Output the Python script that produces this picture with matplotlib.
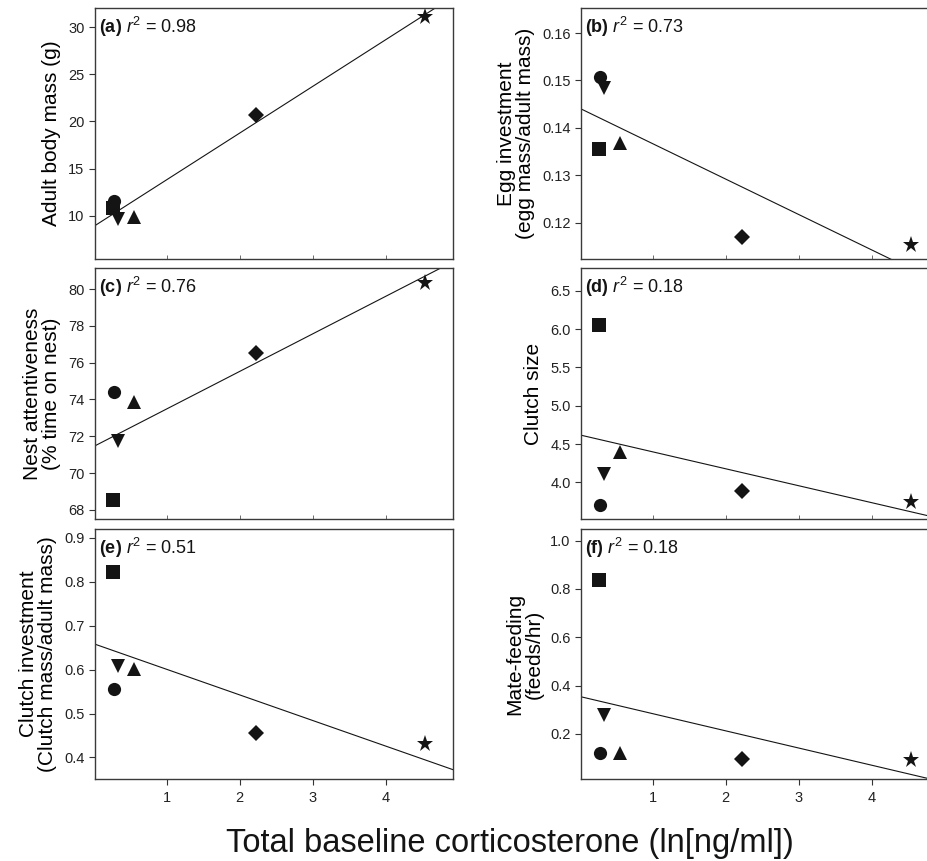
import numpy as np
import matplotlib
matplotlib.use('Agg')
import matplotlib.pyplot as plt

plt.rcParams['font.family'] = ['Liberation Sans', 'DejaVu Sans']
plt.rcParams['mathtext.fontset'] = 'custom'
plt.rcParams['mathtext.rm'] = 'Liberation Sans'
plt.rcParams['mathtext.it'] = 'Liberation Sans:italic'
plt.rcParams['mathtext.bf'] = 'Liberation Sans:bold'

# Species means, order: circle, square, down triangle, up triangle, diamond, star
markers = ['o', 's', 'v', '^', 'D', '*']
marker_sizes = [9.5, 9.5, 10.5, 10.5, 8.5, 12.5]

cort = [0.28, 0.27, 0.34, 0.56, 2.22, 4.53]

body_mass = [11.6, 10.8, 9.7, 9.9, 20.7, 31.06]
egg_invest = [0.1507, 0.1356, 0.1484, 0.1367, 0.1169, 0.1152]
attentiveness = [74.40, 68.55, 71.72, 73.84, 76.52, 80.36]
clutch_size = [3.70, 6.06, 4.11, 4.40, 3.89, 3.74]
clutch_invest = [0.556, 0.822, 0.609, 0.602, 0.456, 0.431]
mate_feeding = [0.12, 0.837, 0.279, 0.12, 0.096, 0.093]

panel_tags = ['a', 'b', 'c', 'd', 'e', 'f']
r2_text = ['0.98', '0.73', '0.76', '0.18', '0.51', '0.18']
y_labels = ['Adult body mass (g)',
            'Egg investment\n(egg mass/adult mass)',
            'Nest attentiveness\n(% time on nest)',
            'Clutch size',
            'Clutch investment\n(Clutch mass/adult mass)',
            'Mate-feeding\n(feeds/hr)']
y_ticks = [[10, 15, 20, 25, 30],
           [0.12, 0.13, 0.14, 0.15, 0.16],
           [68, 70, 72, 74, 76, 78, 80],
           [4.0, 4.5, 5.0, 5.5, 6.0, 6.5],
           [0.4, 0.5, 0.6, 0.7, 0.8, 0.9],
           [0.2, 0.4, 0.6, 0.8, 1.0]]
y_fmt = ['{:.0f}', '{:.2f}', '{:.0f}', '{:.1f}', '{:.1f}', '{:.1f}']
y_lims = [(5.4, 32.05), (0.1123, 0.1653), (67.5, 81.15),
          (3.52, 6.8), (0.351, 0.92), (0.013, 1.048)]
x_ticks = [1, 2, 3, 4]
x_lim = (0.02, 4.92)

all_y = [body_mass, egg_invest, attentiveness, clutch_size, clutch_invest, mate_feeding]

fig = plt.figure(figsize=(9.27, 8.61), dpi=100)

# axes boxes in pixels (left, top, bottom) for a 927x861 canvas
W, H = 927.0, 861.0
col_left = [95, 581]
row_top = [8, 268, 529]
row_bot = [259, 519, 779]
ax_w = 358

ink = '#141414'

for i in range(6):
    row, col = i // 2, i % 2
    left = col_left[col] / W
    bottom = (H - row_bot[row]) / H
    height = (row_bot[row] - row_top[row]) / H
    ax = fig.add_axes([left, bottom, ax_w / W, height])

    y = all_y[i]
    for xv, yv, m, ms in zip(cort, y, markers, marker_sizes):
        ax.plot(xv, yv, linestyle='none', marker=m, markersize=ms,
                color=ink, markeredgewidth=0)

    # least squares line across the whole axis
    slope, inter = np.polyfit(cort, y, 1)
    xl = np.array(x_lim)
    ax.plot(xl, inter + slope * xl, color=ink, lw=0.8)

    ax.set_xlim(x_lim)
    ax.set_ylim(y_lims[i])
    ax.set_xticks(x_ticks)
    ax.set_yticks(y_ticks[i])
    ax.set_yticklabels([y_fmt[i].format(v) for v in y_ticks[i]])
    ax.tick_params(axis='y', direction='out', length=4, width=0.8,
                   labelsize=10.5, colors='#333333', labelcolor='#222222')
    if row == 2:
        ax.tick_params(axis='x', direction='out', length=4, width=0.8,
                       labelsize=10.5, colors='#333333', labelcolor='#222222', pad=5)
    else:
        ax.tick_params(axis='x', direction='in', length=3, width=0.6,
                       colors='#555555', labelbottom=False)

    for s in ax.spines.values():
        s.set_linewidth(1.0)
        s.set_color('#3a3a3a')

    ax.set_ylabel(y_labels[i], fontsize=15, linespacing=1.0, labelpad=5)
    ax.text(0.012, 0.925,
            r'$\mathbf{(%s)}$ $\mathit{r}^{2}$ = %s' % (panel_tags[i], r2_text[i]),
            transform=ax.transAxes, fontsize=13, ha='left', va='center', color=ink)

fig.text(510 / W, 9 / H, 'Total baseline corticosterone (ln[ng/ml])',
         fontsize=23.5, ha='center', va='baseline', color=ink)

fig.savefig('out.png', dpi=100)
